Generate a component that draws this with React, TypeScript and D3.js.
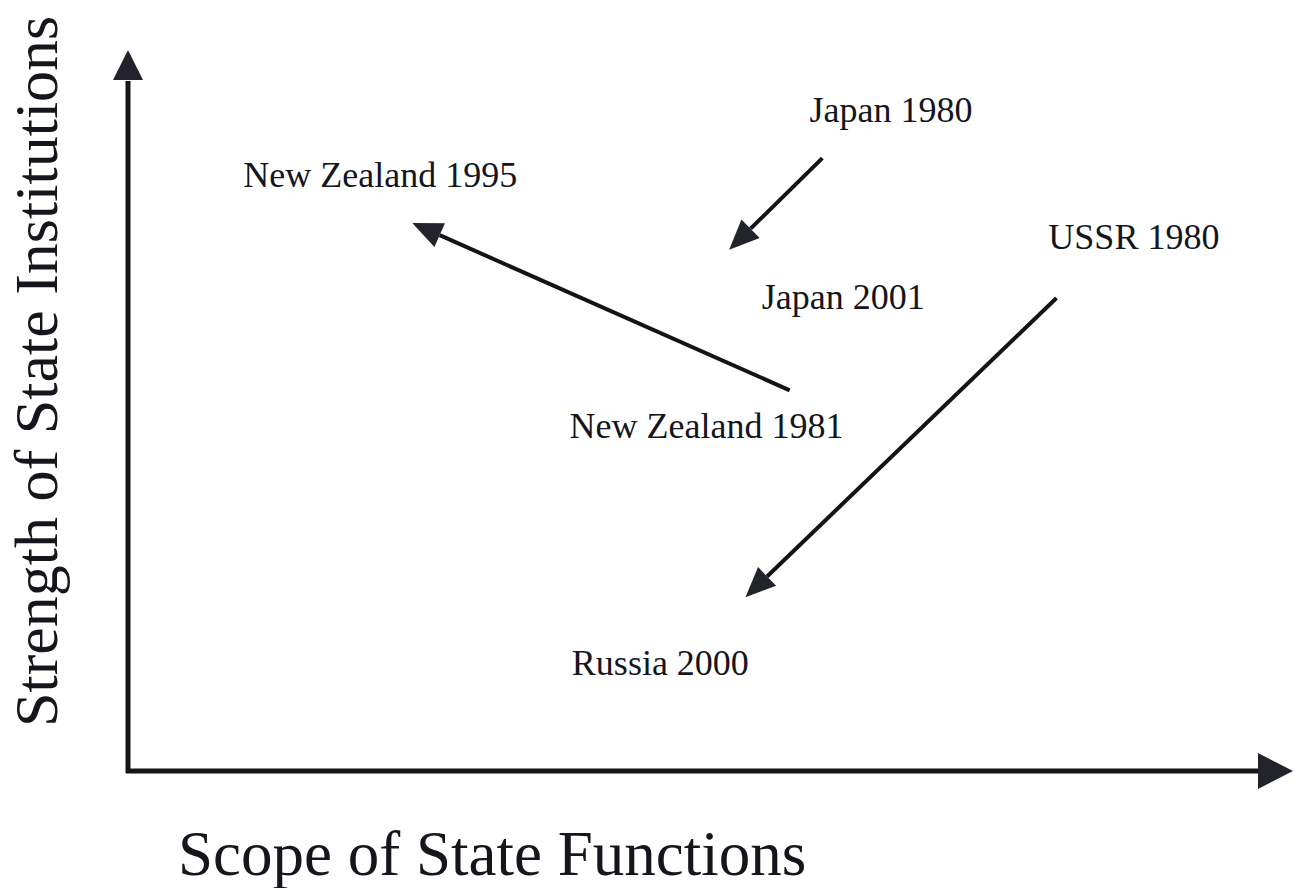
import * as d3 from 'd3'

// conceptual space: scope of state functions (x) vs strength of institutions (y), 0..100
const transitions = [
  { from: [56.8, 52.8], to: [24.4, 76.0] }, // New Zealand 1981 -> 1995
  { from: [59.6, 85.0], to: [51.6, 72.3] }, // Japan 1980 -> 2001
  { from: [79.7, 65.6], to: [53.0, 24.1] }, // USSR 1980 -> Russia 2000
]

const labelNames = ['Japan 1980', 'New Zealand 1995', 'USSR 1980', 'Japan 2001', 'New Zealand 1981', 'Russia 2000']
const labelX = [58.5, 9.9, 79.0, 54.4, 37.9, 38.1]
const labelY = [90.0, 81.0, 72.4, 64.1, 46.2, 13.3]

const xTitle = 'Scope of State Functions'
const yTitle = 'Strength of State Institutions'

const W = 1297
const H = 888
const FONT = '"Liberation Serif", "Times New Roman", serif'

function head(tx: number, ty: number, angle: number, len: number, half: number) {
  const bx = tx - Math.cos(angle) * len
  const by = ty - Math.sin(angle) * len
  const nx = -Math.sin(angle) * half
  const ny = Math.cos(angle) * half
  return { path: `M${tx},${ty}L${bx + nx},${by + ny}L${bx - nx},${by - ny}Z`, bx, by }
}

export default function App() {
  const x = d3.scaleLinear().domain([0, 100]).range([128, 1293])
  const y = d3.scaleLinear().domain([0, 100]).range([771, 50])

  const ox = x(0)
  const oy = y(0)

  // axes arrowheads
  const xHead = head(x(100), oy, 0, 35, 18)
  const yHead = head(ox, y(100), -Math.PI / 2, 30, 15)

  return (
    <svg width={W} height={H} style={{ position: 'absolute', left: 0, top: 0, background: '#fff' }}>
      {/* axes */}
      <line x1={ox} y1={oy + 2} x2={ox} y2={yHead.by + 1} stroke="#141418" strokeWidth={5} />
      <path d={yHead.path} fill="#23232c" />
      <line x1={ox - 2} y1={oy} x2={xHead.bx + 1} y2={oy} stroke="#141418" strokeWidth={5} />
      <path d={xHead.path} fill="#23232c" />

      {/* transition arrows */}
      {transitions.map((t, i) => {
        const x1 = x(t.from[0])
        const y1 = y(t.from[1])
        const x2 = x(t.to[0])
        const y2 = y(t.to[1])
        const a = Math.atan2(y2 - y1, x2 - x1)
        const h = head(x2, y2, a, 30, 13)
        return (
          <g key={i}>
            <line x1={x1} y1={y1} x2={h.bx} y2={h.by} stroke="#141418" strokeWidth={4} />
            <path d={h.path} fill="#23232c" />
          </g>
        )
      })}

      {/* labels */}
      {labelNames.map((n, i) => (
        <text key={n} x={x(labelX[i])} y={y(labelY[i])} fontFamily={FONT} fontSize={36} fill="#15151c">
          {n}
        </text>
      ))}

      {/* axis titles */}
      <text x={178} y={875} fontFamily={FONT} fontSize={63} fill="#15151c">{xTitle}</text>
      <text transform="translate(57,727) rotate(-90)" fontFamily={FONT} fontSize={62} fill="#15151c">
        {yTitle}
      </text>
    </svg>
  )
}
